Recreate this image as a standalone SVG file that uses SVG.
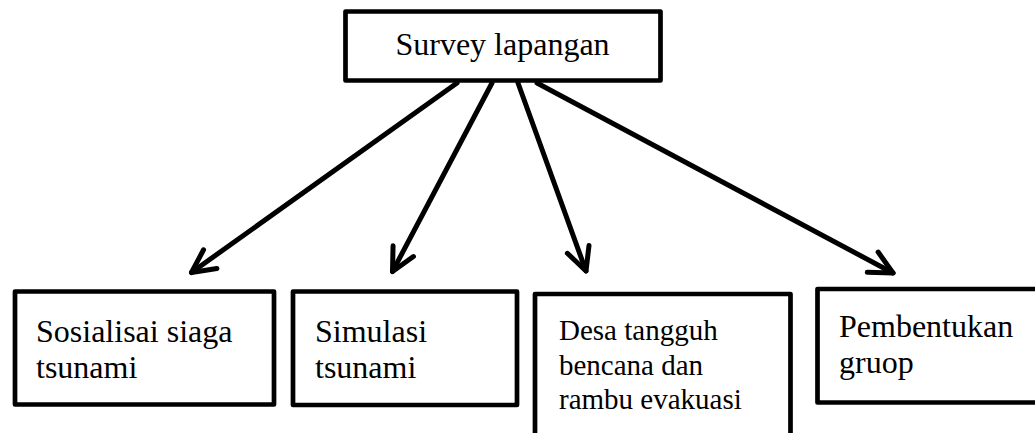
<svg xmlns="http://www.w3.org/2000/svg" width="1035" height="433" viewBox="0 0 1035 433">
<style>
.box{fill:#fff;stroke:#000;stroke-width:4.7;stroke-linejoin:round}
.t{font-family:"Liberation Serif","Times New Roman",serif;fill:#000}
.conn line{stroke:#000;stroke-width:5;stroke-linecap:round}
</style>
<defs>
<marker id="ah" markerUnits="userSpaceOnUse" markerWidth="40" markerHeight="40" viewBox="-30 -20 40 40" refX="0" refY="0" orient="auto" overflow="visible">
<path d="M-23,-11.5 L0,0 L-23,11.5" fill="none" stroke="#000" stroke-width="5" stroke-linecap="round" stroke-linejoin="round"/>
</marker>
</defs>
<rect width="1035" height="433" fill="#fff"/>
<g id="survey">
<rect class="box" x="345.5" y="11.5" width="315" height="69"/>
<text class="t" x="502.5" y="55" font-size="32" text-anchor="middle">Survey lapangan</text>
</g>
<g id="sosialisai">
<rect class="box" x="15" y="291.5" width="259" height="113"/>
<text class="t" x="36" y="341.5" font-size="32">Sosialisai siaga</text>
<text class="t" x="36" y="378" font-size="32">tsunami</text>
</g>
<g id="simulasi">
<rect class="box" x="293" y="291.5" width="224" height="113.5"/>
<text class="t" x="315" y="341.5" font-size="32">Simulasi</text>
<text class="t" x="315" y="378" font-size="32">tsunami</text>
</g>
<g id="desa">
<rect class="box" x="535" y="294" width="255.5" height="150"/>
<text class="t" x="559" y="340" font-size="29">Desa tangguh</text>
<text class="t" x="559" y="374.5" font-size="29">bencana dan</text>
<text class="t" x="559" y="408.5" font-size="29">rambu evakuasi</text>
</g>
<g id="pembentukan">
<rect class="box" x="817.5" y="289" width="240" height="113.5"/>
<text class="t" x="839" y="336.5" font-size="32">Pembentukan</text>
<text class="t" x="839" y="373" font-size="32">gruop</text>
</g>
<g class="conn">
<line x1="457" y1="83" x2="191.5" y2="272.5" marker-end="url(#ah)"/>
<line x1="492" y1="83" x2="392.5" y2="271.5" marker-end="url(#ah)"/>
<line x1="518" y1="83" x2="586" y2="271" marker-end="url(#ah)"/>
<line x1="537" y1="83" x2="893" y2="273" marker-end="url(#ah)"/>
</g>
</svg>
